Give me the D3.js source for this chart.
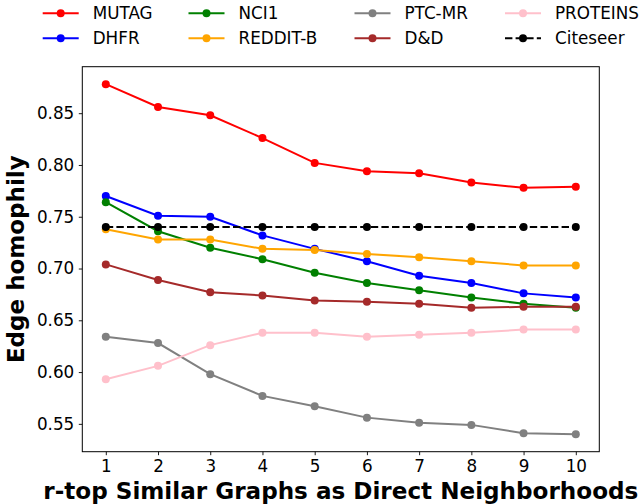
<!DOCTYPE html>
<html>
<head>
<meta charset="utf-8">
<script src="https://cdn.jsdelivr.net/npm/d3@7/dist/d3.min.js"></script>
<style>
  html, body { margin: 0; padding: 0; background: #fff; }
  svg { display: block; font-family: "DejaVu Sans", sans-serif; }
</style>
</head>
<body>
<svg id="chart" width="640" height="504"></svg>
<script>
// ---- data ----
const rValues = [1, 2, 3, 4, 5, 6, 7, 8, 9, 10];
const seriesNames = ["MUTAG", "DHFR", "NCI1", "REDDIT-B", "PTC-MR", "D&D", "PROTEINS", "Citeseer"];
const seriesColors = ["#ff0000", "#0000ff", "#008000", "#ffa500", "#808080", "#a52a2a", "#ffc0cb", "#000000"];
const mutag    = [0.878, 0.856, 0.848, 0.826, 0.802, 0.794, 0.792, 0.783, 0.778, 0.779];
const dhfr     = [0.770, 0.751, 0.750, 0.732, 0.719, 0.707, 0.693, 0.686, 0.676, 0.672];
const nci1     = [0.764, 0.736, 0.720, 0.709, 0.696, 0.686, 0.679, 0.672, 0.666, 0.662];
const redditB  = [0.738, 0.728, 0.728, 0.719, 0.718, 0.714, 0.711, 0.707, 0.703, 0.703];
const ptcMr    = [0.634, 0.628, 0.598, 0.577, 0.567, 0.556, 0.551, 0.549, 0.541, 0.540];
const dd       = [0.704, 0.689, 0.677, 0.674, 0.669, 0.668, 0.666, 0.662, 0.663, 0.663];
const proteins = [0.593, 0.606, 0.626, 0.638, 0.638, 0.634, 0.636, 0.638, 0.641, 0.641];
const citeseer = [0.740, 0.740, 0.740, 0.740, 0.740, 0.740, 0.740, 0.740, 0.740, 0.740];
const seriesValues = [mutag, dhfr, nci1, redditB, ptcMr, dd, proteins, citeseer];
const yTicks = [0.55, 0.60, 0.65, 0.70, 0.75, 0.80, 0.85];
const xLabel = "r-top Similar Graphs as Direct Neighborhoods";
const yLabel = "Edge homophily";

// ---- layout ----
const svg = d3.select("#chart");
const plotLeft = 82.3, plotRight = 599.3, plotTop = 66.7, plotBottom = 451.7;

const allVals = seriesValues.flat();
const yMin = d3.min(allVals), yMax = d3.max(allVals);
const yPad = (yMax - yMin) * 0.05;
const xPad = (d3.max(rValues) - d3.min(rValues)) * 0.05;

const x = d3.scaleLinear().domain([d3.min(rValues) - xPad, d3.max(rValues) + xPad]).range([plotLeft, plotRight]);
const y = d3.scaleLinear().domain([yMin - yPad, yMax + yPad]).range([plotBottom, plotTop]);

// axes
const xAxis = d3.axisBottom(x).tickValues(rValues).tickFormat(d3.format("d")).tickSizeOuter(0).tickSizeInner(3.5).tickPadding(4.5);
const yAxis = d3.axisLeft(y).tickValues(yTicks).tickFormat(d3.format(".2f")).tickSizeOuter(0).tickSizeInner(3.5).tickPadding(4.5);

const gx = svg.append("g").attr("transform", `translate(0,${plotBottom})`).call(xAxis);
const gy = svg.append("g").attr("transform", `translate(${plotLeft},0)`).call(yAxis);
[gx, gy].forEach(g => {
  g.select(".domain").remove();
  g.selectAll(".tick line").attr("stroke", "#000").attr("stroke-width", 0.9);
  g.selectAll(".tick text").attr("fill", "#000").attr("font-size", 16.8).attr("font-family", "DejaVu Sans");
});

// series
const line = d3.line().x((d, i) => x(rValues[i])).y(d => y(d));
seriesValues.forEach((vals, si) => {
  const color = seriesColors[si];
  const dashed = seriesNames[si] === "Citeseer";
  const g = svg.append("g");
  g.append("path")
    .datum(vals)
    .attr("d", line)
    .attr("fill", "none")
    .attr("stroke", color)
    .attr("stroke-width", 2)
    .attr("stroke-dasharray", dashed ? "7.4,3.2" : null);
  g.selectAll("circle").data(vals).join("circle")
    .attr("cx", (d, i) => x(rValues[i]))
    .attr("cy", d => y(d))
    .attr("r", 4)
    .attr("fill", color);
});

// frame
svg.append("rect")
  .attr("x", plotLeft).attr("y", plotTop)
  .attr("width", plotRight - plotLeft).attr("height", plotBottom - plotTop)
  .attr("fill", "none").attr("stroke", "#000").attr("stroke-width", 1);

// axis labels
svg.append("text")
  .attr("x", (plotLeft + plotRight) / 2).attr("y", 499)
  .attr("text-anchor", "middle")
  .attr("font-size", 23.1).attr("font-weight", "bold")
  .text(xLabel);

svg.append("text")
  .attr("transform", `translate(24,${(plotTop + plotBottom) / 2}) rotate(-90)`)
  .attr("text-anchor", "middle")
  .attr("font-size", 23).attr("font-weight", "bold")
  .text(yLabel);

// legend (4 columns, column-major)
const colX = [42.7, 188.5, 354.5, 505];
const rowY = [13.3, 38.3];
const handleLen = 36;
seriesNames.forEach((name, i) => {
  const col = Math.floor(i / 2), row = i % 2;
  const lx = colX[col], ly = rowY[row];
  const g = svg.append("g");
  g.append("line")
    .attr("x1", lx).attr("x2", lx + handleLen)
    .attr("y1", ly).attr("y2", ly)
    .attr("stroke", seriesColors[i]).attr("stroke-width", 2)
    .attr("stroke-dasharray", name === "Citeseer" ? "7.4,3.2" : null);
  g.append("circle")
    .attr("cx", lx + handleLen / 2).attr("cy", ly).attr("r", 4)
    .attr("fill", seriesColors[i]);
  g.append("text")
    .attr("x", lx + handleLen + 14).attr("y", ly + 6)
    .attr("font-size", 16.8)
    .text(name);
});
</script>
</body>
</html>
